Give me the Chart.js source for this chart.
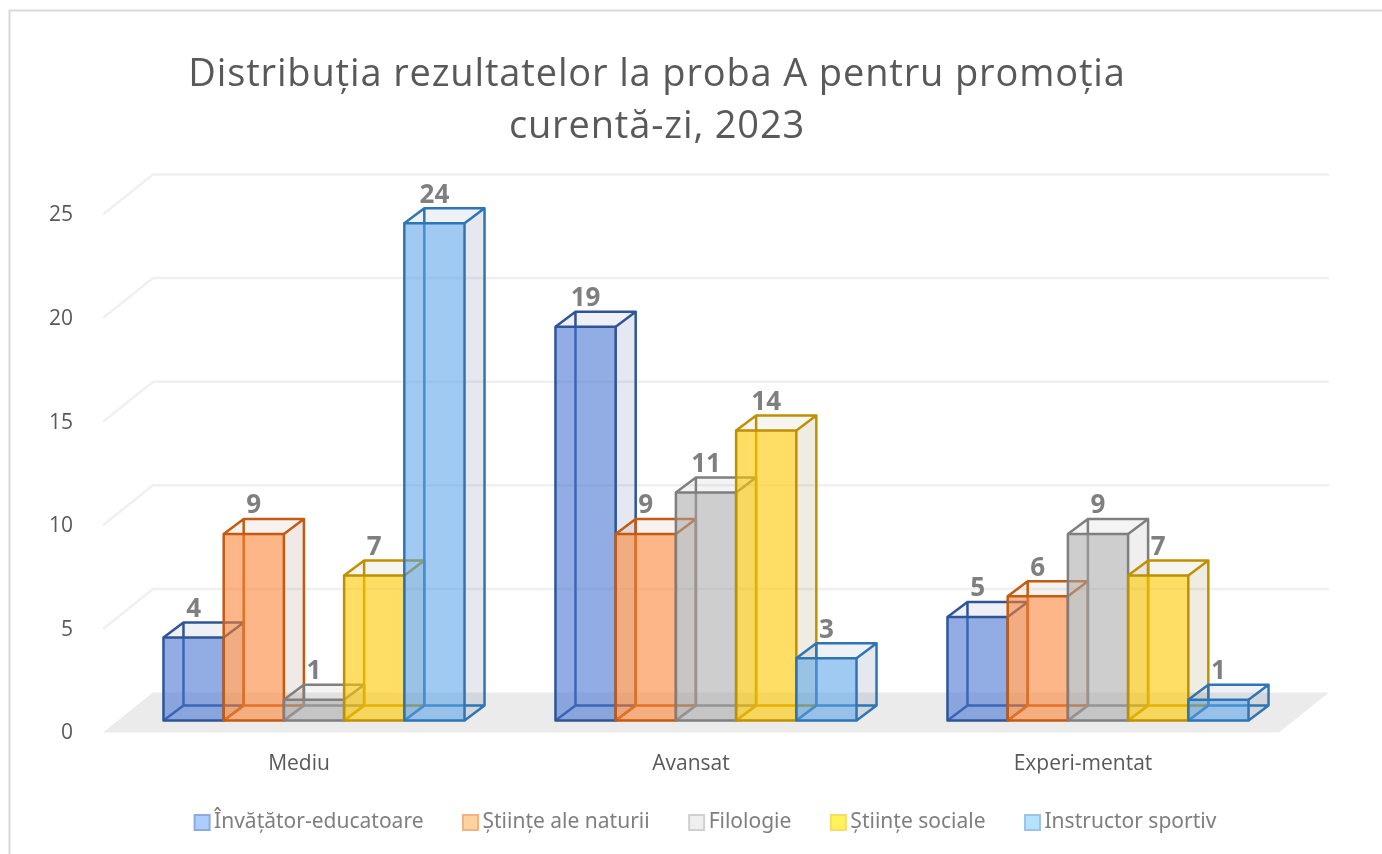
<!DOCTYPE html>
<html lang="ro"><head><meta charset="utf-8"><title>Distribuția rezultatelor</title>
<script src="https://cdn.jsdelivr.net/npm/chart.js@4"></script>
<style>html,body{margin:0;padding:0;background:#fff}canvas{display:block}</style></head>
<body><canvas id="c" width="1382" height="854"></canvas>
<script>
const categories = ['Mediu', 'Avansat', 'Experi-mentat'];
const seriesNames = ['Învăţător-educatoare', 'Ştiinţe ale naturii', 'Filologie', 'Ştiinţe sociale', 'Instructor sportiv'];
const invatator = [4, 19, 5];
const stiinteNaturii = [9, 9, 6];
const filologie = [1, 11, 9];
const stiinteSociale = [7, 14, 7];
const instructor = [24, 3, 1];
const seriesValues = [invatator, stiinteNaturii, filologie, stiinteSociale, instructor];
const titleLines = ['Distribuția rezultatelor la proba A pentru promoția', 'curentă-zi, 2023'];
const frontFill = ['rgba(68,114,208,.58)', 'rgba(252,130,50,.58)', 'rgba(165,165,165,.55)', 'rgba(255,200,0,.6)', 'rgba(85,160,232,.56)'];
const edge = ['#2F5597', '#C55A11', '#7F7F7F', '#BF9000', '#2E75B6'];
const sideFill = ['rgba(68,90,150,.14)', 'rgba(140,90,60,.13)', 'rgba(120,120,120,.12)', 'rgba(140,120,40,.14)', 'rgba(70,100,140,.14)'];
const topFill = ['rgba(68,90,150,.09)', 'rgba(140,90,60,.08)', 'rgba(120,120,120,.08)', 'rgba(140,120,40,.07)', 'rgba(70,100,140,.09)'];
const swatchFill = ['#ADCCFF', '#FFD39F', '#EFEFEF', '#FFF35C', '#B5E3FF'];
const swatchEdge = ['#8FAADC', '#F4B183', '#D0D0D0', '#FFD966', '#9DC3E6'];

const FONT = '"Open Sans", "Noto Sans", sans-serif';
const LEGEND_FONT = '"Noto Sans", "Open Sans", sans-serif';
const BAR_SHIFT = {x: 15, y: -12}, BAR_DEPTH = {x: 20, y: -15}, FLOOR_DEPTH = {x: 50, y: -40};
const EDGE_WIDTH = 2.5;

function barRect(el) {
  const {x, y, base, width} = el.getProps(['x', 'y', 'base', 'width'], true);
  return {y, base, L: x - width / 2, R: x + width / 2};
}

function drawBackFaces(ctx, meta, index) {
  const D = BAR_DEPTH;
  meta.data.forEach(el => {
    const {y, base, L, R} = barRect(el);
    ctx.fillStyle = topFill[index];
    ctx.beginPath(); ctx.moveTo(L, y); ctx.lineTo(L + D.x, y + D.y); ctx.lineTo(R + D.x, y + D.y); ctx.lineTo(R, y); ctx.closePath(); ctx.fill();
    ctx.fillStyle = sideFill[index];
    ctx.beginPath(); ctx.moveTo(R, y); ctx.lineTo(R + D.x, y + D.y); ctx.lineTo(R + D.x, base + D.y); ctx.lineTo(R, base); ctx.closePath(); ctx.fill();
    ctx.strokeStyle = edge[index]; ctx.lineWidth = EDGE_WIDTH; ctx.lineJoin = 'round';
    ctx.beginPath();
    ctx.moveTo(L, y); ctx.lineTo(L + D.x, y + D.y); ctx.lineTo(R + D.x, y + D.y); ctx.lineTo(R, y);
    ctx.moveTo(R + D.x, y + D.y); ctx.lineTo(R + D.x, base + D.y); ctx.lineTo(R, base);
    ctx.moveTo(L + D.x, y + D.y); ctx.lineTo(L + D.x, base + D.y); ctx.lineTo(R + D.x, base + D.y);
    ctx.moveTo(L + D.x, base + D.y); ctx.lineTo(L, base);
    ctx.stroke();
  });
}

function drawFrontEdges(ctx, meta, index) {
  meta.data.forEach(el => {
    const {y, base, L, R} = barRect(el);
    ctx.strokeStyle = edge[index]; ctx.lineWidth = EDGE_WIDTH; ctx.lineJoin = 'round';
    ctx.strokeRect(L, y, R - L, base - y);
  });
}

const box3d = {
  id: 'box3d',
  beforeDraw(chart) {
    const {ctx} = chart;
    ctx.save();
    ctx.strokeStyle = '#D9D9D9'; ctx.lineWidth = 2;
    ctx.beginPath(); ctx.moveTo(9.5, 860); ctx.lineTo(9.5, 10.5); ctx.lineTo(1390, 10.5); ctx.stroke();
    ctx.restore();
  },
  afterLayout(chart) {
    const l = chart.legend, dx = 48;
    l.left += dx; l.right += dx;
    l.legendHitBoxes.forEach(b => { b.left += dx; });
    const t = chart.titleBlock;
    if (!t._spaced) {
      const draw = t.draw;
      t.draw = function () {
        chart.ctx.letterSpacing = '0.85px';
        draw.call(this);
        chart.ctx.letterSpacing = '0px';
      };
      t._spaced = true;
    }
  },
  beforeDatasetsDraw(chart) {
    const {ctx, chartArea: a, scales: {y}} = chart;
    const d = FLOOR_DEPTH;
    ctx.save();
    ctx.strokeStyle = '#F0F0F0'; ctx.lineWidth = 2.5;
    y.ticks.forEach(t => {
      if (t.value === 0) return;
      const p = y.getPixelForValue(t.value);
      ctx.beginPath(); ctx.moveTo(a.left, p); ctx.lineTo(a.left + d.x, p + d.y); ctx.lineTo(a.right + d.x, p + d.y); ctx.stroke();
    });
    const b = y.getPixelForValue(0);
    ctx.fillStyle = '#EBEBEB';
    ctx.beginPath(); ctx.moveTo(a.left, b); ctx.lineTo(a.left + d.x, b + d.y); ctx.lineTo(a.right + d.x, b + d.y); ctx.lineTo(a.right, b); ctx.closePath(); ctx.fill();
    ctx.restore();
    // series are painted first to last, so later series overlap earlier ones
    chart.getSortedVisibleDatasetMetas().forEach(meta => {
      ctx.save();
      ctx.translate(BAR_SHIFT.x, BAR_SHIFT.y);
      drawBackFaces(ctx, meta, meta.index);
      meta.controller.draw();
      drawFrontEdges(ctx, meta, meta.index);
      ctx.restore();
    });
    return false;
  },
  afterDraw(chart) {
    const {ctx} = chart;
    ctx.save();
    ctx.font = 'bold 26px ' + FONT; ctx.fillStyle = '#7F7F7F'; ctx.textAlign = 'center'; ctx.textBaseline = 'middle';
    chart.data.datasets.forEach((ds, i) => {
      chart.getDatasetMeta(i).data.forEach((el, j) => {
        ctx.fillText(String(ds.data[j]), el.x + BAR_SHIFT.x, el.y + BAR_SHIFT.y - 28);
      });
    });
    chart.legend.legendHitBoxes.forEach((b, i) => {
      ctx.fillStyle = swatchFill[i]; ctx.strokeStyle = swatchEdge[i]; ctx.lineWidth = 2;
      const cy = b.top + b.height / 2;
      ctx.fillRect(b.left + 1, cy - 7.5, 15, 15); ctx.strokeRect(b.left + 1, cy - 7.5, 15, 15);
    });
    ctx.restore();
  }
};

new Chart(document.getElementById('c'), {
  type: 'bar',
  plugins: [box3d],
  data: {
    labels: categories,
    datasets: seriesNames.map((name, i) => ({
      label: name, data: seriesValues[i],
      backgroundColor: frontFill[i], borderColor: edge[i], borderWidth: 0,
      categoryPercentage: 0.768, barPercentage: 1, clip: false
    }))
  },
  options: {
    responsive: false, animation: false,
    layout: {padding: {left: 35, right: 103, top: 0, bottom: 11}},
    plugins: {
      title: {display: true, text: titleLines, color: '#595959', font: {family: FONT, size: 38, weight: 'normal', lineHeight: 52 / 38}, padding: {top: 49, bottom: 61.5}},
      legend: {position: 'bottom', labels: {
        color: '#7F7F7F', font: {family: LEGEND_FONT, size: 21}, boxWidth: 10, boxHeight: 10, padding: 38.5,
        generateLabels: c => c.data.datasets.map((ds, i) => ({text: ds.label, fillStyle: 'transparent', strokeStyle: 'transparent', lineWidth: 0, datasetIndex: i, fontColor: '#7F7F7F'}))
      }},
      tooltip: {enabled: false}
    },
    scales: {
      x: {grid: {display: false}, border: {display: false}, ticks: {color: '#595959', font: {family: FONT, size: 21}, padding: 11},
          afterFit(s) { s.height = 41; }},
      y: {min: 0, max: 25, grid: {display: false}, border: {display: false}, ticks: {stepSize: 5, color: '#595959', font: {family: FONT, size: 21}, padding: 22, labelOffset: 1},
          afterFit(s) { s.width = 68; }}
    }
  }
});
</script></body></html>
